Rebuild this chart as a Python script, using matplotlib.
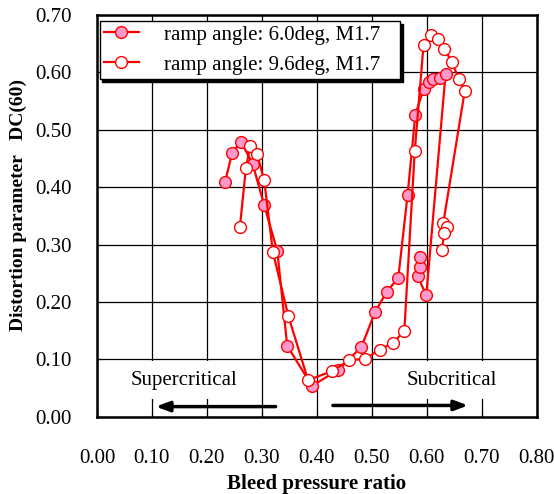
import matplotlib.pyplot as plt

plt.rcParams['font.family'] = ['Liberation Serif', 'DejaVu Serif']

# ramp angle 6.0deg (filled markers)
x_60 = [0.233, 0.246, 0.262, 0.283, 0.304, 0.328, 0.346, 0.391, 0.439, 0.481,
        0.506, 0.527, 0.548, 0.565, 0.579, 0.594, 0.603, 0.612, 0.623, 0.634,
        0.599, 0.583, 0.588, 0.588]
y_60 = [0.409, 0.460, 0.479, 0.441, 0.369, 0.289, 0.124, 0.054, 0.082, 0.122,
        0.183, 0.218, 0.242, 0.387, 0.526, 0.571, 0.583, 0.588, 0.590, 0.597,
        0.212, 0.245, 0.261, 0.279]

# ramp angle 9.6deg (open markers)
x_96 = [0.260, 0.271, 0.279, 0.291, 0.304, 0.320, 0.348, 0.384, 0.428, 0.459,
        0.488, 0.514, 0.539, 0.559, 0.578, 0.594, 0.607, 0.620, 0.632, 0.645,
        0.658, 0.669, 0.630, 0.636, 0.632, 0.627]
y_96 = [0.331, 0.434, 0.472, 0.458, 0.413, 0.287, 0.176, 0.064, 0.080, 0.099,
        0.101, 0.117, 0.129, 0.150, 0.463, 0.648, 0.665, 0.658, 0.641, 0.618,
        0.589, 0.568, 0.338, 0.331, 0.320, 0.291]

x_ticks = [0.0, 0.1, 0.2, 0.3, 0.4, 0.5, 0.6, 0.7, 0.8]
y_ticks = [0.0, 0.1, 0.2, 0.3, 0.4, 0.5, 0.6, 0.7]

fig = plt.figure(figsize=(5.54, 4.94), dpi=100)
ax = fig.add_axes([0.175, 0.156, 0.794, 0.814])

ax.plot(x_60, y_60, color='red', lw=1.6, marker='o', ms=8.5,
        mfc='#ff99cc', mec='red', mew=1.0, label='ramp angle: 6.0deg, M1.7   ', zorder=4)
ax.plot(x_96, y_96, color='red', lw=1.6, marker='o', ms=8.5,
        mfc='white', mec='red', mew=1.0, label='ramp angle: 9.6deg, M1.7   ', zorder=4)

ax.set_xlim(0, 0.8)
ax.set_ylim(0, 0.7)
ax.set_xticks(x_ticks)
ax.set_yticks(y_ticks)
ax.set_xticklabels(['%.2f' % v for v in x_ticks])
ax.set_yticklabels(['%.2f' % v for v in y_ticks])
ax.tick_params(direction='in', length=4, labelsize=15)
ax.tick_params(axis='y', pad=18)
ax.tick_params(axis='x', pad=23)
ax.grid(True, color='black', lw=0.9)
ax.set_axisbelow(True)
for s in ax.spines.values():
    s.set_linewidth(1.8)

ax.set_xlabel('Bleed pressure ratio', fontsize=15, fontweight='bold')
ax.set_ylabel('Distortion parameter   DC(60)', fontsize=14, fontweight='bold')
ax.xaxis.set_label_coords(0.5, -0.142)
ax.yaxis.set_label_coords(-0.16, 0.527)

# regime labels and arrows
box = dict(boxstyle='square,pad=0.45', fc='white', ec='none')
ax.text(0.158, 0.064, 'Supercritical', fontsize=15, ha='center', va='center', bbox=box, zorder=3)
ax.text(0.645, 0.064, 'Subcritical', fontsize=15, ha='center', va='center', bbox=box, zorder=3)
arrow = dict(arrowstyle='-|>,head_length=0.8,head_width=0.3', color='black', lw=2.5)
ax.annotate('', xy=(0.102, 0.018), xytext=(0.330, 0.018), arrowprops=arrow, zorder=5)
ax.annotate('', xy=(0.680, 0.020), xytext=(0.424, 0.020), arrowprops=arrow, zorder=5)

leg = ax.legend(loc='upper left', bbox_to_anchor=(0.006, 0.985), borderaxespad=0,
                fontsize=15, fancybox=False, edgecolor='black', framealpha=1,
                handlelength=1.7, shadow={'color': 'black', 'alpha': 1},
                borderpad=0.2, labelspacing=0.5, handletextpad=1.2)
leg.get_frame().set_linewidth(1.0)
leg.set_zorder(6)

plt.savefig('out.png', dpi=100)
